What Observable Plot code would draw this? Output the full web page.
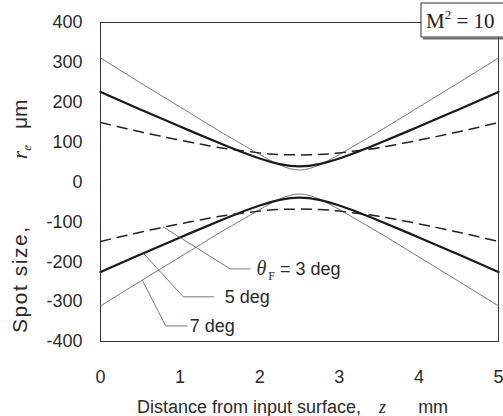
<!DOCTYPE html>
<html><head><meta charset="utf-8">
<script src="https://cdn.jsdelivr.net/npm/d3@7"></script>
<script src="https://cdn.jsdelivr.net/npm/@observablehq/plot@0.6"></script>
<style>
body{margin:0;background:#fff}
#chart{position:relative;width:503px;height:416px;overflow:hidden}
</style>
</head><body><div id="chart"></div>
<script>
// distance from input surface z (mm)
const zs = [0, 0.5, 1, 1.5, 1.75, 2, 2.25, 2.5, 2.75, 3, 3.25, 3.5, 4, 4.5, 5];
// spot size r_e (µm), upper and lower branches
const r7Upper = [311, 249, 188, 127, 98, 69, 43, 30, 43, 69, 98, 127, 188, 249, 311];
const r7Lower = [-311, -249, -188, -127, -98, -69, -43, -30, -43, -69, -98, -127, -188, -249, -311];
const r5Upper = [226, 182, 139, 97, 77, 59, 45, 39, 45, 59, 77, 97, 139, 182, 226];
const r5Lower = [-226, -182, -139, -97, -77, -59, -45, -39, -45, -59, -77, -97, -139, -182, -226];
const r3Upper = [149, 126, 105, 86, 79, 73, 69, 68, 69, 73, 79, 86, 105, 126, 149];
const r3Lower = [-149, -126, -105, -86, -79, -73, -69, -68, -69, -73, -79, -86, -105, -126, -149];
const xTicks = [0, 1, 2, 3, 4, 5];
const yTicks = [-400, -300, -200, -100, 0, 100, 200, 300, 400];
const seriesNames = ["7 deg", "5 deg", "3 deg"];

// annotation leaders (data coordinates) and labels
const labelTexts = ["θF = 3 deg", "5 deg", "7 deg"];
const leader3 = [[0.79, -113], [1.63, -218], [1.88, -218]];
const leader5 = [[0.54, -179], [1.04, -288], [1.42, -288]];
const leader7 = [[0.53, -248], [0.82, -361], [1.09, -361]];
const labelPos = [[1.96, -218], [1.56, -288], [1.12, -361]];

function rowsOf(name, branch, vals) {
  return zs.map((z, i) => ({series: name, branch: name + branch, z, r: vals[i]}));
}
const rows7 = [...rowsOf(seriesNames[0], "u", r7Upper), ...rowsOf(seriesNames[0], "l", r7Lower)];
const rows5 = [...rowsOf(seriesNames[1], "u", r5Upper), ...rowsOf(seriesNames[1], "l", r5Lower)];
const rows3 = [...rowsOf(seriesNames[2], "u", r3Upper), ...rowsOf(seriesNames[2], "l", r3Lower)];
const leaderRows = [leader3, leader5, leader7].flatMap((pts, k) => pts.map(([z, r]) => ({k, z, r})));
const labelRows = labelTexts.map((t, i) => ({t, z: labelPos[i][0], r: labelPos[i][1]}));

const plot = Plot.plot({
  width: 503, height: 416,
  marginLeft: 100, marginRight: 5, marginTop: 22, marginBottom: 75,
  x: {domain: [0, 5]},
  y: {domain: [-400, 400]},
  style: {fontFamily: "'Liberation Sans', Arial, sans-serif", fontSize: "18px", color: "#2a2a2a", background: "#fff", overflow: "visible"},
  marks: [
    Plot.axisX({ticks: xTicks, tickSize: 0, tickPadding: 29, label: null, tickFormat: d => String(d)}),
    Plot.axisY({ticks: yTicks, tickSize: 0, tickPadding: 18, label: null, tickFormat: d => String(d)}),
    Plot.frame({stroke: "#333", strokeWidth: 1}),
    Plot.line(rows7, {x: "z", y: "r", z: "branch", curve: "natural", stroke: "#666", strokeWidth: 0.9}),
    Plot.line(rows3, {x: "z", y: "r", z: "branch", curve: "natural", stroke: "#222", strokeWidth: 1.5, strokeDasharray: "10,7"}),
    Plot.line(rows5, {x: "z", y: "r", z: "branch", curve: "natural", stroke: "#1a1a1a", strokeWidth: 2.2}),
    Plot.line(leaderRows, {x: "z", y: "r", z: "k", stroke: "#555", strokeWidth: 0.8}),
    Plot.text(labelRows, {x: "z", y: "r", text: "t", textAnchor: "start", fill: "#2a2a2a", fontSize: 18})
  ]
});

const svg = d3.select(plot);
// theta_F label with italic theta and subscript F
svg.selectAll("text").filter(function() { return this.textContent === labelTexts[0]; })
  .each(function() {
    const t = d3.select(this);
    t.text(null);
    t.append("tspan").attr("font-family", "'Liberation Serif', 'Times New Roman', serif").attr("font-style", "italic").attr("font-size", 20).text("θ");
    t.append("tspan").attr("font-family", "'Liberation Serif', serif").attr("font-size", 12).attr("dy", 5).attr("dx", 2).text("F");
    t.append("tspan").attr("dy", -5).text(" = 3 deg");
  });

// x axis title
const xt = svg.append("text").attr("text-anchor", "start").attr("x", 137).attr("y", 413).attr("fill", "#2a2a2a").attr("font-size", 18);
xt.append("tspan").text("Distance from input surface,");
xt.append("tspan").attr("dx", 18).attr("font-family", "'Liberation Serif', serif").attr("font-style", "italic").text("z");
xt.append("tspan").attr("dx", 32).text("mm");

// y axis title
const yt = svg.append("text").attr("text-anchor", "start").attr("transform", "translate(27,333) rotate(-90)").attr("fill", "#2a2a2a").attr("font-size", 21);
yt.append("tspan").attr("textLength", 106).attr("lengthAdjust", "spacing").text("Spot size,");
yt.append("tspan").attr("x", 174).attr("font-family", "'Liberation Serif', serif").attr("font-style", "italic").text("r");
yt.append("tspan").attr("font-family", "'Liberation Serif', serif").attr("font-style", "italic").attr("font-size", 13).attr("dy", 4).text("e");
yt.append("tspan").attr("x", 204).attr("dy", -4).text("μm");

// M^2 box
svg.append("rect").attr("x", 421).attr("y", 3).attr("width", 95).attr("height", 34).attr("fill", "#fff").attr("stroke", "#333").attr("stroke-width", 1);
svg.append("line").attr("x1", 423).attr("x2", 503).attr("y1", 38.5).attr("y2", 38.5).attr("stroke", "#666").attr("stroke-width", 2);
const mt = svg.append("text").attr("text-anchor", "start").attr("x", 426).attr("y", 28).attr("fill", "#222").attr("font-family", "'Liberation Serif', 'Times New Roman', serif").attr("font-size", 21);
mt.append("tspan").text("M");
mt.append("tspan").attr("font-size", 13).attr("dy", -9).text("2");
mt.append("tspan").attr("dy", 9).text(" = 10");

document.getElementById("chart").appendChild(plot);
</script>
</body></html>
